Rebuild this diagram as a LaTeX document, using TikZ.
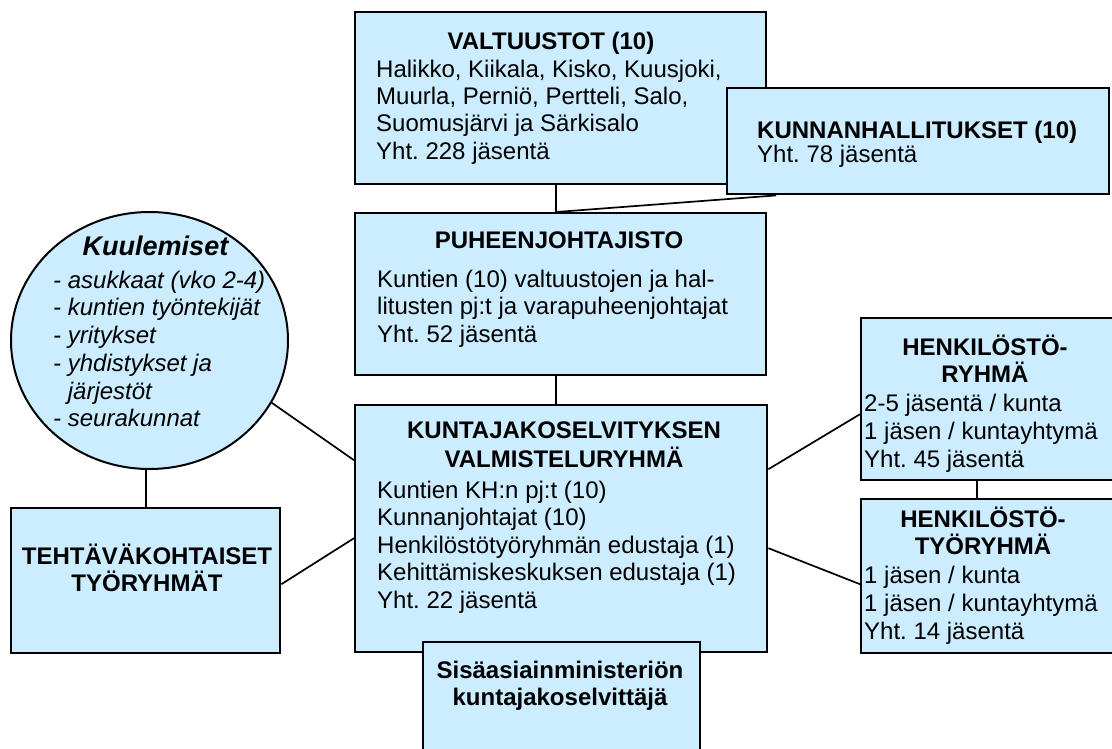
\documentclass[tikz,border=0pt]{standalone}
\usepackage{fontspec}
\setmainfont{Liberation Sans}
\usetikzlibrary{shapes.geometric}
\definecolor{boxblue}{RGB}{204,236,255}
\newcommand{\fsA}{\fontsize{24pt}{27.4pt}\selectfont}
\newcommand{\fsB}{\fontsize{24pt}{28pt}\selectfont}
\newcommand{\fsC}{\fontsize{24pt}{27.7pt}\selectfont}
\newcommand{\stt}{\rule{0pt}{23pt}}
\tikzset{
  box/.style={draw=black, fill=boxblue, line width=2.4pt, inner sep=0pt, anchor=north west},
  conn/.style={draw=black, line width=1.7pt},
  ttl/.style={anchor=base, inner sep=0pt, font=\fsA\bfseries},
  ttlw/.style={anchor=base west, inner sep=0pt, font=\fsA\bfseries},
  body/.style={anchor=north west, inner sep=0pt, align=left, font=\fsA},
  bodyB/.style={anchor=north west, inner sep=0pt, align=left, font=\fsB},
}
\begin{document}
\frenchspacing
\begin{tikzpicture}[x=1pt, y=-1pt]
\useasboundingbox (0,0) rectangle (1112,749);
\clip (0,0) rectangle (1112,749);

% shapes
\node[box, minimum width=411pt, minimum height=172pt] (valt) at (354,11) {};
\node[box, minimum width=411pt, minimum height=162pt] (puh) at (354,212) {};
\node[box, minimum width=412pt, minimum height=247pt] (kj) at (354,404) {};
\node[box, minimum width=269pt, minimum height=145pt] (teht) at (10,507) {};
\node[box, minimum width=260pt, minimum height=162pt] (hr) at (860,317) {};
\node[box, minimum width=260pt, minimum height=154pt] (ht) at (860,498) {};
\node[draw=black, fill=boxblue, line width=2pt, ellipse, inner sep=0pt,
      minimum width=277pt, minimum height=257pt] (kuul) at (149.5,340.5) {};

% connectors
\draw[conn] ([xshift=-4.5pt]valt.south) -- ([xshift=-4.5pt]puh.north);
\draw[conn] ([xshift=-4.5pt]puh.south) -- ([xshift=-5pt]kj.north);
\draw[conn] (kuul.-27) -- ([yshift=68.5pt]kj.west);
\draw[conn] ([yshift=-3.5pt]teht.east) -- ([yshift=-9.5pt]kj.west);
\draw[conn] (teht.north) -- (teht.north |- kuul.south);
\draw[conn] ([yshift=59.5pt]kj.east) -- ([yshift=-15pt]hr.west);
\draw[conn] ([yshift=-19.5pt]kj.east) -- ([yshift=-8pt]ht.west);
\draw[conn] ([xshift=-14pt]hr.south) -- ([xshift=-14pt]ht.north);

% overlapping boxes
\node[box, minimum width=382pt, minimum height=106pt] (kh) at (726,87) {};
\draw[conn] ([xshift=-142pt]kh.south) -- ([xshift=-4.5pt]puh.north);
\node[box, minimum width=277pt, minimum height=130pt] (sis) at (422,641) {};

% texts
\node[ttl] (valtT) at (551,50) {VALTUUSTOT (10)};
\node[body] (valtB) at (376,54) {\stt Halikko, Kiikala, Kisko, Kuusjoki,\\Muurla, Perniö, Pertteli, Salo,\\Suomusjärvi ja Särkisalo\\Yht. 228 jäsentä};

\node[ttlw] (khT) at (757,139) {KUNNANHALLITUKSET (10)};
\node[anchor=base west, inner sep=0pt, font=\fsA] (khB) at (757,163) {Yht. 78 jäsentä};

\node[ttl] (puhT) at (559,248) {PUHEENJOHTAJISTO};
\node[body] (puhB) at (377,264) {\stt Kuntien (10) valtuustojen ja hal-\\litusten pj:t ja varapuheenjohtajat\\Yht. 52 jäsentä};

\node[ttl] (kjT1) at (564,438) {KUNTAJAKOSELVITYKSEN};
\node[ttl] (kjT2) at (564,467) {VALMISTELURYHMÄ};
\node[body, font=\fontsize{24pt}{27.5pt}\selectfont] (kjB) at (377,475) {\stt Kuntien KH:n pj:t (10)\\Kunnanjohtajat (10)\\Henkilöstötyöryhmän edustaja (1)\\Kehittämiskeskuksen edustaja (1)\\Yht. 22 jäsentä};

\node[ttl] (sisT1) at (560,678) {Sisäasiainministeriön};
\node[ttl] (sisT2) at (560,705) {kuntajakoselvittäjä};

\node[ttl] (tehtT1) at (147,564) {TEHTÄVÄKOHTAISET};
\node[ttl] (tehtT2) at (147,591) {TYÖRYHMÄT};

\node[anchor=base, inner sep=0pt, font=\fontsize{27pt}{30pt}\selectfont\bfseries\itshape] (kuulT) at (155.5,255) {Kuulemiset};
\node[body, font=\fsC\itshape] (kuulB) at (53,265) {\stt - asukkaat (vko 2-4)\\- kuntien työntekijät\\- yritykset\\- yhdistykset ja\\\phantom{- }järjestöt\\- seurakunnat};

\node[ttl] (hrT1) at (985,355) {HENKILÖSTÖ-};
\node[ttl] (hrT2) at (985,382) {RYHMÄ};
\node[bodyB] (hrB) at (864,388) {\stt 2-5 jäsentä / kunta\\1 jäsen / kuntayhtymä\\Yht. 45 jäsentä};

\node[ttl] (htT1) at (983,527) {HENKILÖSTÖ-};
\node[ttl] (htT2) at (983,554) {TYÖRYHMÄ};
\node[bodyB] (htB) at (864,560) {\stt 1 jäsen / kunta\\1 jäsen / kuntayhtymä\\Yht. 14 jäsentä};
\end{tikzpicture}
\end{document}
